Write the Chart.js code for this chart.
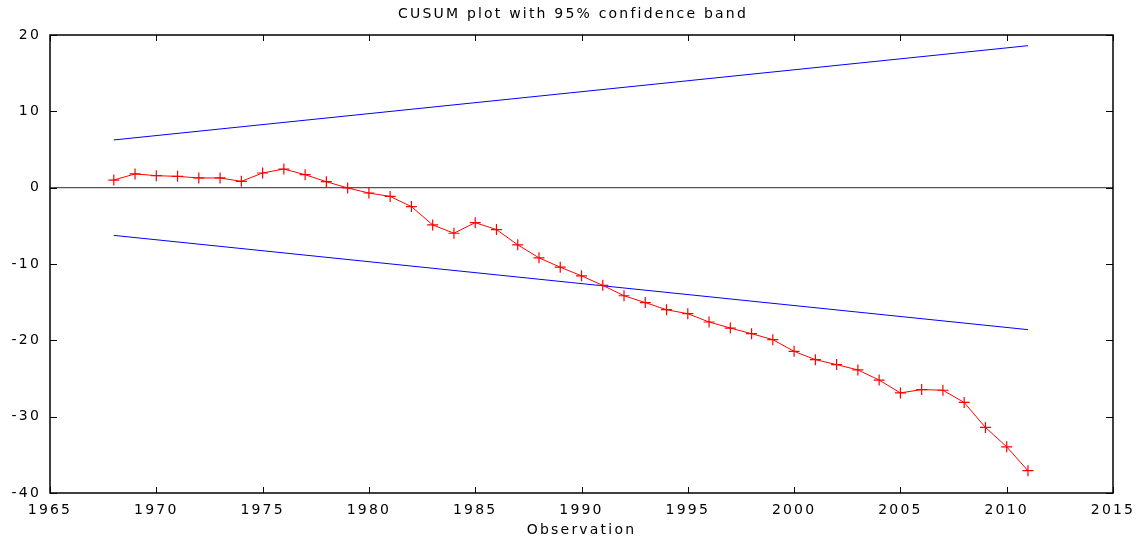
<!DOCTYPE html>
<html>
<head>
<meta charset="utf-8">
<script src="https://cdn.jsdelivr.net/npm/chart.js@4/dist/chart.umd.min.js"></script>
<style>
    html, body { margin: 0; padding: 0; background: #ffffff; }
    #wrap { width: 1146px; height: 541px; }
</style>
</head>
<body>
<div id="wrap"><canvas id="cusum"></canvas></div>
<script>
// datos del grafico
const years = [1968, 1969, 1970, 1971, 1972, 1973, 1974, 1975, 1976, 1977, 1978, 1979, 1980, 1981, 1982,
    1983, 1984, 1985, 1986, 1987, 1988, 1989, 1990, 1991, 1992, 1993, 1994, 1995, 1996, 1997, 1998, 1999,
    2000, 2001, 2002, 2003, 2004, 2005, 2006, 2007, 2008, 2009, 2010, 2011];
const cusum = [1.0, 1.8, 1.57, 1.48, 1.27, 1.27, 0.83, 1.92, 2.44, 1.7, 0.78, -0.04, -0.7, -1.15, -2.48,
    -4.88, -5.97, -4.58, -5.49, -7.49, -9.19, -10.42, -11.55, -12.8, -14.16, -15.05, -15.99, -16.51, -17.6, -18.39, -19.13, -19.91,
    -21.44, -22.53, -23.18, -23.88, -25.2, -26.89, -26.45, -26.54, -28.14, -31.41, -33.95, -37.08];
const bandYears = [1968, 2011];
const upperBand = [6.25, 18.6];
const lowerBand = [-6.25, -18.6];
const xTicks = [1965, 1970, 1975, 1980, 1985, 1990, 1995, 2000, 2005, 2010, 2015];
const yTicks = [-40, -30, -20, -10, 0, 10, 20];

function toPoints(xs, ys) {
    return xs.map((x, i) => ({ x: x, y: ys[i] }));
}

// marco y marcas hacia dentro (estilo gnuplot)
const framePlugin = {
    id: "frame",
    beforeDraw(chart) {
        chart.ctx.letterSpacing = "2.2px";
    },
    afterDraw(chart) {
        const ctx = chart.ctx;
        const a = chart.chartArea;
        const xs = chart.scales.x;
        const ys = chart.scales.y;
        ctx.save();
        ctx.strokeStyle = "#000000";
        ctx.lineWidth = 1;
        ctx.beginPath();
        xs.ticks.forEach((t) => {
            const px = Math.round(xs.getPixelForValue(t.value)) + 0.5;
            ctx.moveTo(px, a.bottom);
            ctx.lineTo(px, a.bottom - 6);
            ctx.moveTo(px, a.top);
            ctx.lineTo(px, a.top + 6);
        });
        ys.ticks.forEach((t) => {
            const py = Math.round(ys.getPixelForValue(t.value)) + 0.5;
            ctx.moveTo(a.left, py);
            ctx.lineTo(a.left + 7, py);
            ctx.moveTo(a.right, py);
            ctx.lineTo(a.right - 7, py);
        });
        ctx.stroke();
        ctx.lineWidth = 1.5;
        ctx.strokeRect(a.left, a.top, a.right - a.left, a.bottom - a.top);
        ctx.restore();
    },
};

const tickFont = { family: "'DejaVu Sans', sans-serif", size: 14 };

new Chart(document.getElementById("cusum"), {
    type: "line",
    data: {
        datasets: [
            {
                label: "CUSUM",
                data: toPoints(years, cusum),
                borderColor: "#ff0000",
                backgroundColor: "#ff0000",
                borderWidth: 1,
                pointStyle: "cross",
                pointRadius: 5.5,
                pointBorderWidth: 1.2,
                pointBorderColor: "#ff0000",
                tension: 0,
            },
            {
                label: "upper",
                data: toPoints(bandYears, upperBand),
                borderColor: "#0000ff",
                borderWidth: 1,
                pointRadius: 0,
            },
            {
                label: "lower",
                data: toPoints(bandYears, lowerBand),
                borderColor: "#0000ff",
                borderWidth: 1,
                pointRadius: 0,
            },
        ],
    },
    options: {
        responsive: true,
        maintainAspectRatio: false,
        animation: false,
        layout: { padding: 0 },
        plugins: {
            legend: { display: false },
            tooltip: { enabled: false },
            title: {
                display: true,
                text: "CUSUM plot with 95% confidence band",
                color: "#000000",
                font: { family: "'DejaVu Sans', sans-serif", size: 14, weight: "normal", lineHeight: 1.2 },
                padding: { top: 5.5, bottom: 12.7 },
            },
        },
        scales: {
            x: {
                type: "linear",
                min: 1965,
                max: 2015,
                afterBuildTicks: (scale) => {
                    scale.ticks = xTicks.map((v) => ({ value: v }));
                },
                afterFit: (scale) => {
                    scale.height = 48;
                },
                ticks: {
                    color: "#000000",
                    font: tickFont,
                    padding: 9,
                    maxRotation: 0,
                    callback: (v) => String(v),
                },
                grid: { display: false, drawTicks: false },
                border: { display: false },
                title: {
                    display: true,
                    text: "Observation",
                    color: "#000000",
                    font: { family: "'DejaVu Sans', sans-serif", size: 14, lineHeight: 1.2 },
                    padding: { top: 0, bottom: 2 },
                },
            },
            y: {
                type: "linear",
                min: -40,
                max: 20,
                afterBuildTicks: (scale) => {
                    scale.ticks = yTicks.map((v) => ({ value: v }));
                },
                afterFit: (scale) => {
                    scale.width = 50;
                },
                ticks: {
                    color: "#000000",
                    font: tickFont,
                    padding: 9,
                    callback: (v) => String(v),
                },
                grid: {
                    drawTicks: false,
                    lineWidth: 1.3,
                    color: (c) => (c.tick && c.tick.value === 0 ? "#555555" : "rgba(0,0,0,0)"),
                },
                border: { display: false },
            },
            // eje vacio a la derecha para dejar el margen
            yRight: {
                type: "linear",
                position: "right",
                min: -40,
                max: 20,
                afterFit: (scale) => {
                    scale.width = 33;
                },
                ticks: { display: false },
                grid: { display: false, drawTicks: false },
                border: { display: false },
            },
        },
    },
    plugins: [framePlugin],
});
</script>
</body>
</html>
